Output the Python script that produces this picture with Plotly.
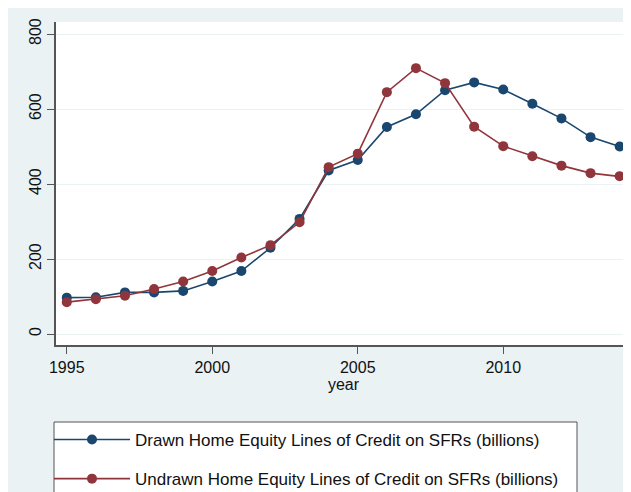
import plotly.graph_objects as go

years = list(range(1995, 2016))
drawn = [97, 98, 111, 111, 115, 140, 168, 230, 307, 436, 464, 552, 586, 650, 671, 652,
         614, 575, 525, 500, 470]
undrawn = [85, 93, 102, 120, 140, 168, 204, 237, 298, 445, 481, 645, 709, 669, 553, 501,
           474, 449, 429, 421, 411]
series_names = ["Drawn Home Equity Lines of Credit on SFRs (billions)",
                "Undrawn Home Equity Lines of Credit on SFRs (billions)"]
x_ticks = [1995, 2000, 2005, 2010]
y_ticks = [0, 200, 400, 600, 800]

NAVY = "#1A476F"
MAROON = "#90353B"
BG = "#EAF2F3"
FONT = "Liberation Sans, Arial, sans-serif"

OFF = 8  # default page body margin
W, H = 631 - OFF, 492 - OFF
# plot area in page pixels: x 56..631, y 22..345
L, R, T, B = 56 - OFF, 0, 22 - OFF, H - (345 - OFF)
pw, ph = W - L - R, H - T - B


def px_x(p):  # page pixel -> paper x
    return (p - OFF - L) / pw


def px_y(p):  # page pixel -> paper y
    return (H - B - (p - OFF)) / ph


fig = go.Figure()
for name, vals, col, grp in [(series_names[0], drawn, NAVY, "a"),
                             (series_names[1], undrawn, MAROON, "b")]:
    fig.add_trace(go.Scatter(
        x=years, y=vals, name=name, mode="lines+markers", legendgroup=grp,
        line=dict(color=col, width=1.6),
        marker=dict(color=col, size=10, symbol="circle"),
        cliponaxis=True,
    ))

shapes = [
    # legend box
    dict(type="rect", xref="paper", yref="paper", x0=px_x(54), x1=px_x(577),
         y0=px_y(530), y1=px_y(422), fillcolor="white",
         line=dict(color="#555555", width=1), layer="below"),
]

fig.update_layout(
    width=W, height=H,
    margin=dict(l=L, r=R, t=T, b=B, pad=0, autoexpand=False),
    paper_bgcolor=BG, plot_bgcolor="white",
    font=dict(family=FONT, size=16, color="#111111"),
    shapes=shapes,
    showlegend=True,
    legend=dict(
        x=px_x(49), y=px_y(422), xanchor="left", yanchor="top",
        bgcolor="rgba(0,0,0,0)", borderwidth=0,
        font=dict(family=FONT, size=17, color="#111111"),
        traceorder="grouped", tracegroupgap=14, itemwidth=76,
    ),
    xaxis=dict(
        range=[1994.63, 2014.39], tickvals=x_ticks, ticks="outside", ticklen=7,
        tickcolor="#555555", tickwidth=1.2,
        showline=True, linecolor="#555555", linewidth=1.5,
        showgrid=False, zeroline=False,
        title=dict(text="year", standoff=2, font=dict(size=16)),
        tickfont=dict(size=16),
    ),
    yaxis=dict(
        range=[-29.3, 832], tickvals=y_ticks, ticks="outside", ticklen=7,
        tickcolor="#555555", tickwidth=1.2,
        showline=True, linecolor="#555555", linewidth=1.5,
        showgrid=True, gridcolor=BG, gridwidth=1.2, zeroline=False,
        tickangle=-90, tickfont=dict(size=16),
    ),
)

fig.write_html("out.html")
